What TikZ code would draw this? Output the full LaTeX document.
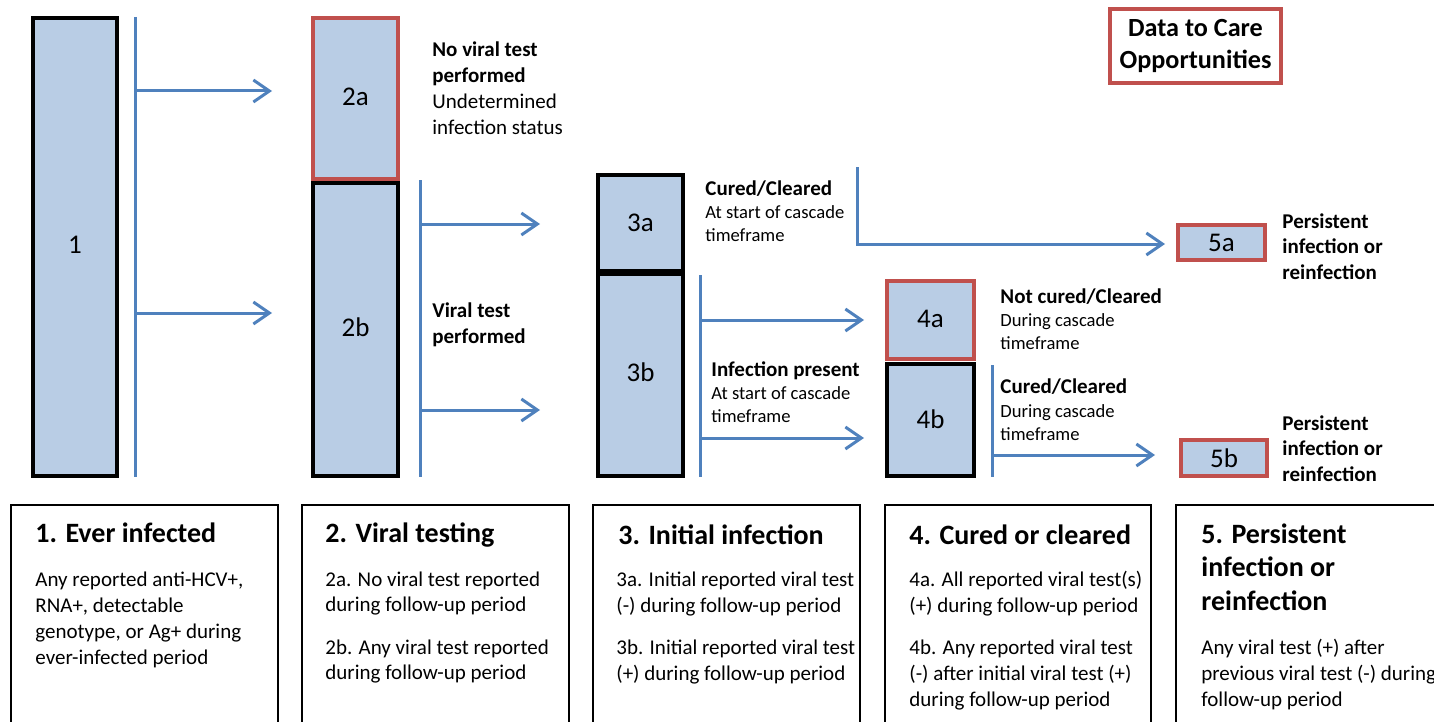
\documentclass[tikz,border=0pt]{standalone}
\usepackage{fontspec}
\setmainfont{Carlito}
\usetikzlibrary{arrows.meta}
\definecolor{boxblue}{HTML}{B9CDE5}
\definecolor{lineblue}{HTML}{4F81BD}
\definecolor{oppred}{HTML}{C0504D}
% rectangle node given by its corners (in px units)
\newcommand{\cellbox}[7]{%
  \node[#6, minimum width={(#4-#2)*0.5pt}, minimum height={(#5-#3)*0.5pt}]
    (#1) at ({(#2+#4)/2},{(#3+#5)/2}) {#7};}
\begin{document}
\begin{tikzpicture}[x=0.5pt,y=-0.5pt,
  stage/.style={draw=black, line width=2pt, fill=boxblue, inner sep=0pt,
    font=\fontsize{13.5}{16}\selectfont},
  opp/.style={stage, draw=oppred, line width=1.6pt},
  bar/.style={draw=lineblue, line width=1.5pt},
  flow/.style={bar, -{Straight Barb[length=8pt,width=11pt]}},
  lbl/.style={anchor=base west, align=left, inner sep=0pt,
    font=\fontsize{10.5}{13}\selectfont},
  lblb/.style={lbl, font=\bfseries\fontsize{10.5}{13}\selectfont},
  sub/.style={lbl, font=\fontsize{9.3}{11.75}\selectfont},
  pers/.style={lbl, font=\bfseries\fontsize{10.5}{12.75}\selectfont},
  panel/.style={draw=black, line width=0.8pt, inner sep=0pt},
  ptitle/.style={anchor=base west, align=left, inner sep=0pt,
    font=\bfseries\fontsize{14}{16.75}\selectfont},
  pbody/.style={anchor=base west, align=left, inner sep=0pt,
    font=\fontsize{10.5}{13}\selectfont}]
\useasboundingbox (0,0) rectangle (1434,722);
\clip (0,0) rectangle (1434,722);

% ---- stage boxes ----
\cellbox{s1}{33}{18}{117}{476}{stage}{\raisebox{2.5pt}{1}}
\cellbox{s2a}{313}{18}{398}{179}{opp}{\raisebox{1.5pt}{2a}}
\cellbox{s2b}{313}{183}{398}{476}{stage}{\raisebox{2.5pt}{2b}}
\cellbox{s3a}{598}{175}{683}{271}{stage}{3a}
\cellbox{s3b}{598}{274}{683}{476}{stage}{\raisebox{3pt}{3b}}
\cellbox{s4a}{887}{281}{974}{359}{opp}{\raisebox{1pt}{4a}}
\cellbox{s4b}{887}{364}{974}{476}{stage}{\raisebox{1pt}{4b}}
\cellbox{s5a}{1178}{225}{1265}{260}{opp}{5a}
\cellbox{s5b}{1181}{440}{1267}{476}{opp}{5b}

% ---- legend ----
\cellbox{legend}{1110}{9}{1281}{83}{draw=oppred, line width=1.6pt, align=center,
  font=\bfseries\fontsize{13.1}{16}\selectfont}{Data to Care\\Opportunities}

% ---- branching connectors ----
\coordinate (b1t) at (135,17);   \coordinate (b1b) at (135,477);
\coordinate (b2t) at (420,180);  \coordinate (b2b) at (420,477);
\coordinate (b3t) at (700,275);  \coordinate (b3b) at (700,477);
\coordinate (b4t) at (992,365);  \coordinate (b4b) at (992,477);
\coordinate (c3t) at (857,167);  \coordinate (c3k) at (857,244);
\draw[bar] (b1t) -- (b1b);
\draw[bar] (b2t) -- (b2b);
\draw[bar] (b3t) -- (b3b);
\draw[bar] (b4t) -- (b4b);

\coordinate (t1a) at (272,91);   \coordinate (t1b) at (272,313);
\coordinate (t2a) at (540,224);  \coordinate (t2b) at (540,410);
\coordinate (t3a) at (864,320);  \coordinate (t3b) at (864,438);
\coordinate (t4)  at (1155,455); \coordinate (t5)  at (1165,244);
\draw[flow] (b1t |- t1a) -- (t1a);
\draw[flow] (b1t |- t1b) -- (t1b);
\draw[flow] (b2t |- t2a) -- (t2a);
\draw[flow] (b2t |- t2b) -- (t2b);
\draw[flow] (b3t |- t3a) -- (t3a);
\draw[flow] (b3t |- t3b) -- (t3b);
\draw[flow] (b4t |- t4) -- (t4);
\draw[flow] (c3t) -- (c3k) -- (t5);

% ---- side labels (placed at the baseline of their last line) ----
\node[lbl] (l2a) at (432,134) {\textbf{No viral test}\\\textbf{performed}\\Undetermined\\infection status};
\node[lblb] (l2b) at (432,343) {Viral test\\performed};
\node[lblb] (l3a) at (705,195) {Cured/Cleared};
\node[sub] (l3as) at (705,241.5) {At start of cascade\\timeframe};
\node[lblb] (l3b) at (711,376) {Infection present};
\node[sub] (l3bs) at (711,422.5) {At start of cascade\\timeframe};
\node[lblb] (l4a) at (1000,303) {Not cured/Cleared};
\node[sub] (l4as) at (1000,349.5) {During cascade\\timeframe};
\node[lblb] (l4b) at (1000,393) {Cured/Cleared};
\node[sub] (l4bs) at (1000,440.5) {During cascade\\timeframe};
\node[pers] (l5a) at (1282,279) {Persistent\\infection or\\reinfection};
\node[pers] (l5b) at (1282,481) {Persistent\\infection or\\reinfection};

% ---- description panels ----
\cellbox{p1}{11}{505}{278}{770}{panel}{}
\cellbox{p2}{302}{505}{569}{770}{panel}{}
\cellbox{p3}{593}{505}{860}{770}{panel}{}
\cellbox{p4}{885}{505}{1151}{770}{panel}{}
\cellbox{p5}{1176}{505}{1480}{770}{panel}{}

\node[ptitle] (h1) at (35,542) {1. Ever infected};
\node[ptitle] (h2) at (325,542) {2. Viral testing};
\node[ptitle] (h3) at (618,544) {3. Initial infection};
\node[ptitle] (h4) at (909,544) {4. Cured or cleared};
\node[ptitle] (h5) at (1201,610) {5. Persistent\\infection or\\reinfection};

\node[pbody] (d1) at (35,664) {Any reported anti-HCV+,\\RNA+, detectable\\genotype, or Ag+ during\\ever-infected period};
\node[pbody, font=\fontsize{10.5}{12.5}\selectfont] (d2a) at (325,611) {2a. No viral test reported\\during follow-up period};
\node[pbody, font=\fontsize{10.5}{12.5}\selectfont] (d2b) at (325,679) {2b. Any viral test reported\\during follow-up period};
\node[pbody] (d3a) at (616,612) {3a. Initial reported viral test\\(-) during follow-up period};
\node[pbody] (d3b) at (616,680) {3b. Initial reported viral test\\(+) during follow-up period};
\node[pbody] (d4a) at (909,612) {4a. All reported viral test(s)\\(+) during follow-up period};
\node[pbody] (d4b) at (909,706) {4b. Any reported viral test\\(-) after initial viral test (+)\\during follow-up period};
\node[pbody] (d5) at (1201,706) {Any viral test (+) after\\previous viral test (-) during\\follow-up period};
\end{tikzpicture}
\end{document}
